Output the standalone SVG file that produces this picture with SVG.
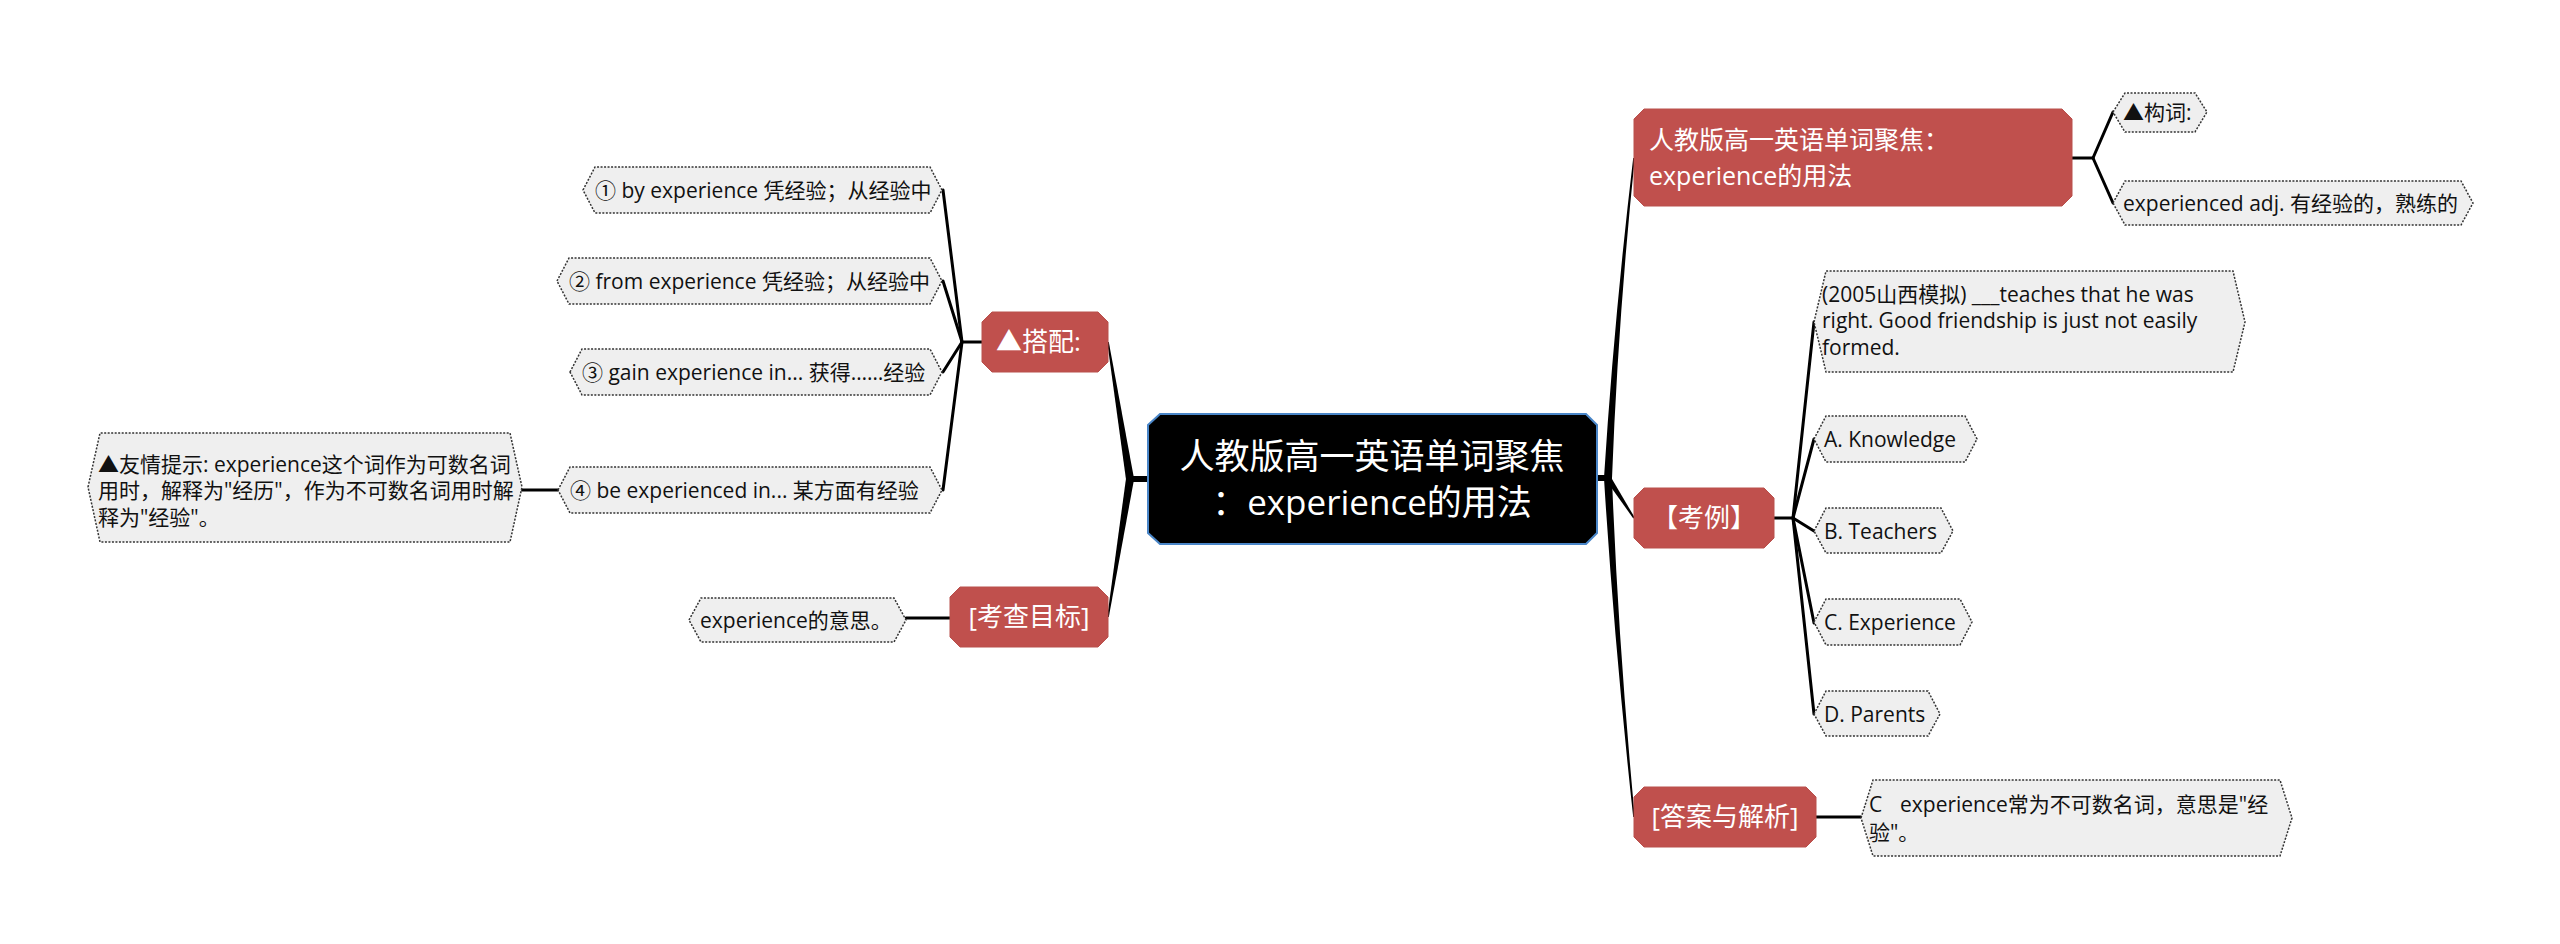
<svg xmlns="http://www.w3.org/2000/svg" width="2560" height="944" viewBox="0 0 2560 944">
<style>
text{font-family:"Open Sans","Noto Sans CJK SC",sans-serif;}
.root{fill:#000;stroke:#4a86c8;stroke-width:2;}
.red{fill:#c0504d;stroke:#b9504c;stroke-width:1;}
.leaf{fill:#efefef;stroke:#333;stroke-width:1.5;stroke-dasharray:2 1.5;}
.tr{fill:#fff;font-size:35px;}
.tw{fill:#fff;font-size:26px;}
.tw1{fill:#fff;font-size:25px;}
.tl{fill:#111;font-size:21px;}
.ln{stroke:#000;stroke-width:3;fill:none;stroke-linecap:round;}
.tp{fill:#000;}
</style>
<rect width="2560" height="944" fill="#fff"/>
<g id="connectors">
  <rect x="1127" y="476" width="22" height="6" class="tp"/>
  <path class="tp" d="M1126,479.6 L1107.2,342.1 L1108.8,341.9 L1134,478.4 Z"/>
  <path class="tp" d="M1126,478.4 L1107.2,616.9 L1108.8,617.1 L1134,479.6 Z"/>
  <rect x="1596" y="475" width="14" height="6" class="tp"/>
  <path class="tp" d="M1604,477.7 Q1614,320 1633.2,157.9 L1634.8,158.1 Q1618,320 1612,478.3 Z"/>
  <path class="tp" d="M1605.5,479.6 L1633.3,518.4 L1634.7,517.6 L1610.5,476.4 Z"/>
  <path class="tp" d="M1604,478.3 Q1614,640 1633.2,817.1 L1634.8,816.9 Q1618,640 1612,477.7 Z"/>
  <line class="ln" x1="962" y1="342" x2="982" y2="342"/>
  <line class="ln" x1="962" y1="342" x2="943" y2="190"/>
  <line class="ln" x1="962" y1="342" x2="943" y2="281"/>
  <line class="ln" x1="962" y1="342" x2="943" y2="372"/>
  <line class="ln" x1="962" y1="342" x2="943" y2="490"/>
  <line class="ln" x1="522" y1="490" x2="558" y2="490"/>
  <line class="ln" x1="906" y1="618" x2="950" y2="618"/>
  <line class="ln" x1="2072" y1="158" x2="2093" y2="158"/>
  <line class="ln" x1="2093" y1="158" x2="2113" y2="112"/>
  <line class="ln" x1="2093" y1="158" x2="2113" y2="203"/>
  <line class="ln" x1="1774" y1="518" x2="1793" y2="518"/>
  <line class="ln" x1="1793" y1="518" x2="1814" y2="322"/>
  <line class="ln" x1="1793" y1="518" x2="1814" y2="439"/>
  <line class="ln" x1="1793" y1="518" x2="1814" y2="531"/>
  <line class="ln" x1="1793" y1="518" x2="1814" y2="623"/>
  <line class="ln" x1="1793" y1="518" x2="1814" y2="714"/>
  <line class="ln" x1="1816" y1="817" x2="1861" y2="817"/>
</g>
<g id="root">
  <polygon class="root" points="1160,414 1586,414 1597,425 1597,533 1586,544 1160,544 1148,533 1148,425"/>
  <text class="tr" x="1372" y="469" text-anchor="middle">人教版高一英语单词聚焦</text>
  <text class="tr" x="1372" y="515" text-anchor="middle">：experience的用法</text>
</g>
<g id="n-dapei">
  <polygon class="red" points="992,312 1098,312 1108,322 1108,362 1098,372 992,372 982,362 982,322"/>
  <text class="tw" x="996" y="351">▲搭配:</text>
</g>
<g id="n-mubiao">
  <polygon class="red" points="960,587 1098,587 1108,597 1108,637 1098,647 960,647 950,637 950,597"/>
  <text class="tw" x="1029" y="626" text-anchor="middle">[考查目标]</text>
</g>
<g id="n-title">
  <polygon class="red" points="1644,109 2062,109 2072,119 2072,196 2062,206 1644,206 1634,196 1634,119"/>
  <text class="tw1" x="1649" y="149">人教版高一英语单词聚焦：</text>
  <text class="tw1" x="1649" y="185">experience的用法</text>
</g>
<g id="n-kaoli">
  <polygon class="red" points="1644,488 1764,488 1774,498 1774,538 1764,548 1644,548 1634,538 1634,498"/>
  <text class="tw" x="1704" y="527" text-anchor="middle">【考例】</text>
</g>
<g id="n-daan">
  <polygon class="red" points="1644,787 1806,787 1816,797 1816,837 1806,847 1644,847 1634,837 1634,797"/>
  <text class="tw" x="1725" y="826" text-anchor="middle">[答案与解析]</text>
</g>
<g id="leaf-1">
  <polygon class="leaf" points="583,190 595,167 930,167 942,190 930,213 595,213"/>
  <text class="tl" x="595" y="198">① by experience 凭经验；从经验中</text>
</g>
<g id="leaf-2">
  <polygon class="leaf" points="557,281 569,258 930,258 942,281 930,304 569,304"/>
  <text class="tl" x="569" y="289">② from experience 凭经验；从经验中</text>
</g>
<g id="leaf-3">
  <polygon class="leaf" points="570,372 582,349 930,349 942,372 930,395 582,395"/>
  <text class="tl" x="582" y="380">③ gain experience in... 获得……经验</text>
</g>
<g id="leaf-4">
  <polygon class="leaf" points="558,490 570,467 930,467 942,490 930,513 570,513"/>
  <text class="tl" x="570" y="498">④ be experienced in... 某方面有经验</text>
</g>
<g id="leaf-tip">
  <polygon class="leaf" points="88,487 100,433 510,433 522,487 510,542 100,542"/>
  <text class="tl" x="98" y="472">▲友情提示: experience这个词作为可数名词</text>
  <text class="tl" x="98" y="498">用时，解释为"经历"，作为不可数名词用时解</text>
  <text class="tl" x="98" y="525">释为"经验"。</text>
</g>
<g id="leaf-meaning">
  <polygon class="leaf" points="689,620 701,598 894,598 906,620 894,642 701,642"/>
  <text class="tl" x="700" y="628">experience的意思。</text>
</g>
<g id="leaf-gouci">
  <polygon class="leaf" points="2113,112 2125,93 2195,93 2207,112 2195,132 2125,132"/>
  <text class="tl" x="2123" y="120">▲构词:</text>
</g>
<g id="leaf-adj">
  <polygon class="leaf" points="2113,203 2125,181 2461,181 2473,203 2461,225 2125,225"/>
  <text class="tl" x="2123" y="211">experienced adj. 有经验的，熟练的</text>
</g>
<g id="leaf-question">
  <polygon class="leaf" points="1814,322 1826,271 2233,271 2245,322 2233,372 1826,372"/>
  <text class="tl" x="1822" y="302">(2005山西模拟) ___teaches that he was</text>
  <text class="tl" x="1822" y="328">right. Good friendship is just not easily</text>
  <text class="tl" x="1822" y="355">formed.</text>
</g>
<g id="leaf-a">
  <polygon class="leaf" points="1814,439 1826,416 1965,416 1977,439 1965,462 1826,462"/>
  <text class="tl" x="1824" y="447">A. Knowledge</text>
</g>
<g id="leaf-b">
  <polygon class="leaf" points="1814,531 1826,508 1941,508 1953,531 1941,553 1826,553"/>
  <text class="tl" x="1824" y="539">B. Teachers</text>
</g>
<g id="leaf-c">
  <polygon class="leaf" points="1814,622 1826,599 1960,599 1972,622 1960,645 1826,645"/>
  <text class="tl" x="1824" y="630">C. Experience</text>
</g>
<g id="leaf-d">
  <polygon class="leaf" points="1814,714 1826,691 1928,691 1940,714 1928,736 1826,736"/>
  <text class="tl" x="1824" y="722">D. Parents</text>
</g>
<g id="leaf-answer">
  <polygon class="leaf" points="1861,818 1873,780 2280,780 2292,818 2280,856 1873,856"/>
  <text class="tl" x="1869" y="812">C</text>
  <text class="tl" x="1900" y="812">experience常为不可数名词，意思是"经</text>
  <text class="tl" x="1869" y="840">验"。</text>
</g>
</svg>
